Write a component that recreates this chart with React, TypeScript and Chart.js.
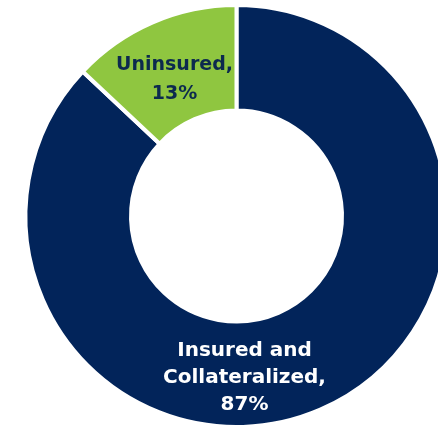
import React, { useEffect, useRef } from "react";
import { Chart, registerables } from "chart.js";

Chart.register(...registerables);

const categories = ["Insured and Collateralized", "Uninsured"];
const values = [87, 13];
const labelLines = [["Insured and", "Collateralized,", "87%"], ["Uninsured,", "13%"]];
const colors = ["#02245a", "#8fc640"];
const textColors = ["#ffffff", "#0c2a4e"];

const W = 473;
const H = 432;

const labelPlugin = {
  id: "sliceLabels",
  afterDatasetsDraw(chart: any) {
    const ctx = chart.ctx;
    const meta = chart.getDatasetMeta(0);
    const lineH = [27, 29];
    const sizes = [20, 19];
    const offsets = [
      [8, 162],
      [-62, -136],
    ];
    meta.data.forEach((arc: any, i: number) => {
      const lines = labelLines[i];
      const cx = arc.x + offsets[i][0];
      const cy = arc.y + offsets[i][1];
      ctx.save();
      ctx.fillStyle = textColors[i];
      ctx.font = `bold ${sizes[i]}px 'DejaVu Sans'`;
      ctx.textAlign = "center";
      ctx.textBaseline = "middle";
      const n = lines.length;
      lines.forEach((t: string, j: number) => {
        ctx.fillText(t, cx, cy + (j - (n - 1) / 2) * lineH[i]);
      });
      ctx.restore();
    });
  },
};

export default function App() {
  const ref = useRef<HTMLCanvasElement>(null);
  useEffect(() => {
    if (!ref.current) return;
    const chart = new Chart(ref.current, {
      type: "doughnut",
      data: {
        labels: categories,
        datasets: [
          {
            data: values,
            backgroundColor: colors,
            borderColor: "#ffffff",
            borderWidth: 4,
          },
        ],
      },
      options: {
        animation: false,
        responsive: false,
        maintainAspectRatio: false,
        devicePixelRatio: 1,
        radius: 211,
        cutout: "50%",
        layout: { padding: 0 },
        plugins: {
          legend: { display: false },
          tooltip: { enabled: false },
        },
      } as any,
      plugins: [labelPlugin],
    });
    return () => chart.destroy();
  }, []);
  return (
    <div
      style={{
        position: "fixed",
        left: 0,
        top: 0,
        width: 438,
        height: 430,
        overflow: "hidden",
        background: "#ffffff",
      }}
    >
      <canvas ref={ref} width={W} height={H} style={{ display: "block", width: W, height: H }} />
    </div>
  );
}
